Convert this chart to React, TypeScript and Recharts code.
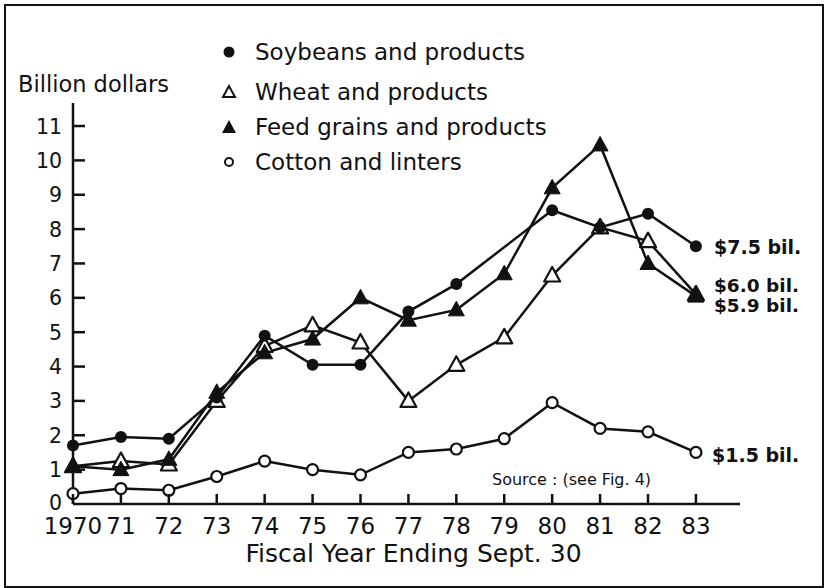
import React from "react";
import { LineChart, Line, XAxis, YAxis, Legend, Label } from "recharts";

// fiscal years and their tick labels
const years = [1970, 1971, 1972, 1973, 1974, 1975, 1976, 1977, 1978, 1979, 1980, 1981, 1982, 1983];
const yearLabels = ["1970", "71", "72", "73", "74", "75", "76", "77", "78", "79", "80", "81", "82", "83"];
const yTicks = [0, 1, 2, 3, 4, 5, 6, 7, 8, 9, 10, 11];

// billion dollars
const soybeans = [1.7, 1.95, 1.9, 3.1, 4.9, 4.05, 4.05, 5.6, 6.4, null, 8.55, 8.05, 8.45, 7.5];
const wheat = [1.1, 1.25, 1.15, 3.0, 4.6, 5.2, 4.7, 3.0, 4.05, 4.85, 6.65, 8.05, 7.65, 6.1];
const feedGrains = [1.1, 1.0, 1.3, 3.25, 4.4, 4.8, 6.0, 5.35, 5.65, 6.7, 9.2, 10.45, 7.0, 6.05];
const cotton = [0.3, 0.45, 0.4, 0.8, 1.25, 1.0, 0.85, 1.5, 1.6, 1.9, 2.95, 2.2, 2.1, 1.5];

const seriesNames = ["Soybeans and products", "Wheat and products", "Feed grains and products", "Cotton and linters"];
const endLabels = ["$7.5 bil.", "$6.0 bil.", "$5.9 bil.", "$1.5 bil."];

const data = years.map((year, i) => ({
  year,
  soybeans: soybeans[i],
  wheat: wheat[i],
  feedGrains: feedGrains[i],
  cotton: cotton[i],
}));

const INK = "#111";
const FONT = "'DejaVu Sans', sans-serif";

function Marker({ kind, cx, cy }: { kind: string; cx: number; cy: number }) {
  if (kind === "filledCircle") return <circle cx={cx} cy={cy} r={6} fill={INK} />;
  if (kind === "openCircle") return <circle cx={cx} cy={cy} r={5.5} fill="#fff" stroke={INK} strokeWidth={2.2} />;
  const pts = `${cx},${cy - 8.5} ${cx - 8},${cy + 6} ${cx + 8},${cy + 6}`;
  if (kind === "openTriangle") return <polygon points={pts} fill="#fff" stroke={INK} strokeWidth={2.2} strokeLinejoin="round" />;
  return <polygon points={pts} fill={INK} stroke={INK} strokeWidth={1} strokeLinejoin="round" />;
}

const makeDot = (kind: string) => (props: any) => {
  const { cx, cy, index, value } = props;
  if (cx == null || cy == null || value == null) return <g key={`e-${kind}-${index}`} />;
  return (
    <g key={`${kind}-${index}`}>
      <Marker kind={kind} cx={cx} cy={cy} />
    </g>
  );
};

const XTick = (props: any) => {
  const { x, y, index } = props;
  return (
    <g>
      <line x1={x} x2={x} y1={y} y2={y - 10} stroke={INK} strokeWidth={2.5} />
      <text x={x} y={y + 30} textAnchor="middle" fontSize={23} fontFamily={FONT} fill={INK}>
        {yearLabels[index]}
      </text>
    </g>
  );
};

const YTick = (props: any) => {
  const { x, y, payload } = props;
  return (
    <g>
      {payload.value > 0 && <line x1={x} x2={x + 12} y1={y} y2={y} stroke={INK} strokeWidth={2.5} />}
      <text x={x - 11} y={payload.value === 0 ? y + 5.5 : y + 7.5} textAnchor="end" fontSize={20.5} fontFamily={FONT} fill={INK}>
        {payload.value}
      </text>
    </g>
  );
};

const legendKinds = ["filledCircle", "openTriangle", "filledTriangle", "smallOpenCircle"];
const legendRows = [52, 92, 127, 162];

const LegendBox = () => (
  <svg width={330} height={150} style={{ display: "block" }}>
    {seriesNames.map((name, i) => {
      const cy = legendRows[i] - 36;
      const kind = legendKinds[i];
      return (
        <g key={name}>
          {kind === "smallOpenCircle" ? (
            <circle cx={10} cy={cy} r={4} fill="#fff" stroke={INK} strokeWidth={2} />
          ) : kind === "openTriangle" ? (
            <polygon points={`10,${cy - 6} 4,${cy + 5} 16,${cy + 5}`} fill="#fff" stroke={INK} strokeWidth={2} />
          ) : kind === "filledTriangle" ? (
            <polygon points={`10,${cy - 7} 3,${cy + 6} 17,${cy + 6}`} fill={INK} />
          ) : (
            <circle cx={10} cy={cy} r={5.5} fill={INK} />
          )}
          <text x={36} y={cy + 8.4} fontSize={23} fontFamily={FONT} fill={INK}>
            {name}
          </text>
        </g>
      );
    })}
  </svg>
);

export default function App() {
  return (
    <div style={{ position: "absolute", left: 0, top: 0, width: 825, height: 588, background: "#fff" }}>
      <div
        style={{
          position: "absolute",
          left: 4,
          top: 4,
          width: 816,
          height: 580,
          border: `2px solid ${INK}`,
        }}
      />
      <LineChart
        width={825}
        height={588}
        data={data}
        margin={{ top: 103, right: 85, bottom: 24, left: 13 }}
        style={{ position: "absolute", left: 0, top: 0 }}
      >
        <XAxis
          dataKey="year"
          type="number"
          domain={[1970, 1983.92]}
          ticks={years}
          interval={0}
          height={60}
          tickSize={0}
          tickMargin={0}
          tick={<XTick />}
          axisLine={{ stroke: INK, strokeWidth: 2.5 }}
          tickLine={false}
        >
          <Label
            content={(p: any) => {
              const vb = p.viewBox;
              return (
                <text x={vb.x + vb.width / 2 + 7} y={vb.y + 58} textAnchor="middle" fontSize={25} fontFamily={FONT} fill={INK}>
                  Fiscal Year Ending Sept. 30
                </text>
              );
            }}
          />
        </XAxis>
        <YAxis
          type="number"
          domain={[0, 11.67]}
          ticks={yTicks}
          interval={0}
          width={60}
          tickSize={0}
          tickMargin={0}
          tick={<YTick />}
          axisLine={{ stroke: INK, strokeWidth: 2.5 }}
          tickLine={false}
        />
        <Legend
          layout="horizontal"
          verticalAlign="middle"
          align="center"
          content={<LegendBox />}
          wrapperStyle={{ position: "absolute", left: 219, top: 36, width: 330, height: 150 }}
        />
        <Line dataKey="cotton" name={seriesNames[3]} stroke={INK} strokeWidth={2.5} dot={makeDot("openCircle")} isAnimationActive={false} />
        <Line dataKey="wheat" name={seriesNames[1]} stroke={INK} strokeWidth={2.5} dot={makeDot("openTriangle")} isAnimationActive={false} />
        <Line dataKey="feedGrains" name={seriesNames[2]} stroke={INK} strokeWidth={2.5} dot={makeDot("filledTriangle")} isAnimationActive={false} />
        <Line dataKey="soybeans" name={seriesNames[0]} stroke={INK} strokeWidth={2.5} dot={makeDot("filledCircle")} connectNulls isAnimationActive={false} />
      </LineChart>
      <svg width={825} height={588} style={{ position: "absolute", left: 0, top: 0, pointerEvents: "none" }}>
        <text x={18} y={92} fontSize={22.5} fontFamily={FONT} fill={INK}>
          Billion dollars
        </text>
        <text x={492} y={485} fontSize={16} fontFamily={FONT} fill={INK}>
          Source : (see Fig. 4)
        </text>
        <text x={714} y={254} fontSize={19} fontWeight="bold" fontFamily={FONT} fill={INK}>
          {endLabels[0]}
        </text>
        <text x={714} y={292} fontSize={18.5} fontWeight="bold" fontFamily={FONT} fill={INK}>
          {endLabels[1]}
        </text>
        <text x={714} y={312} fontSize={18.5} fontWeight="bold" fontFamily={FONT} fill={INK}>
          {endLabels[2]}
        </text>
        <text x={712} y={462} fontSize={19} fontWeight="bold" fontFamily={FONT} fill={INK}>
          {endLabels[3]}
        </text>
      </svg>
    </div>
  );
}
